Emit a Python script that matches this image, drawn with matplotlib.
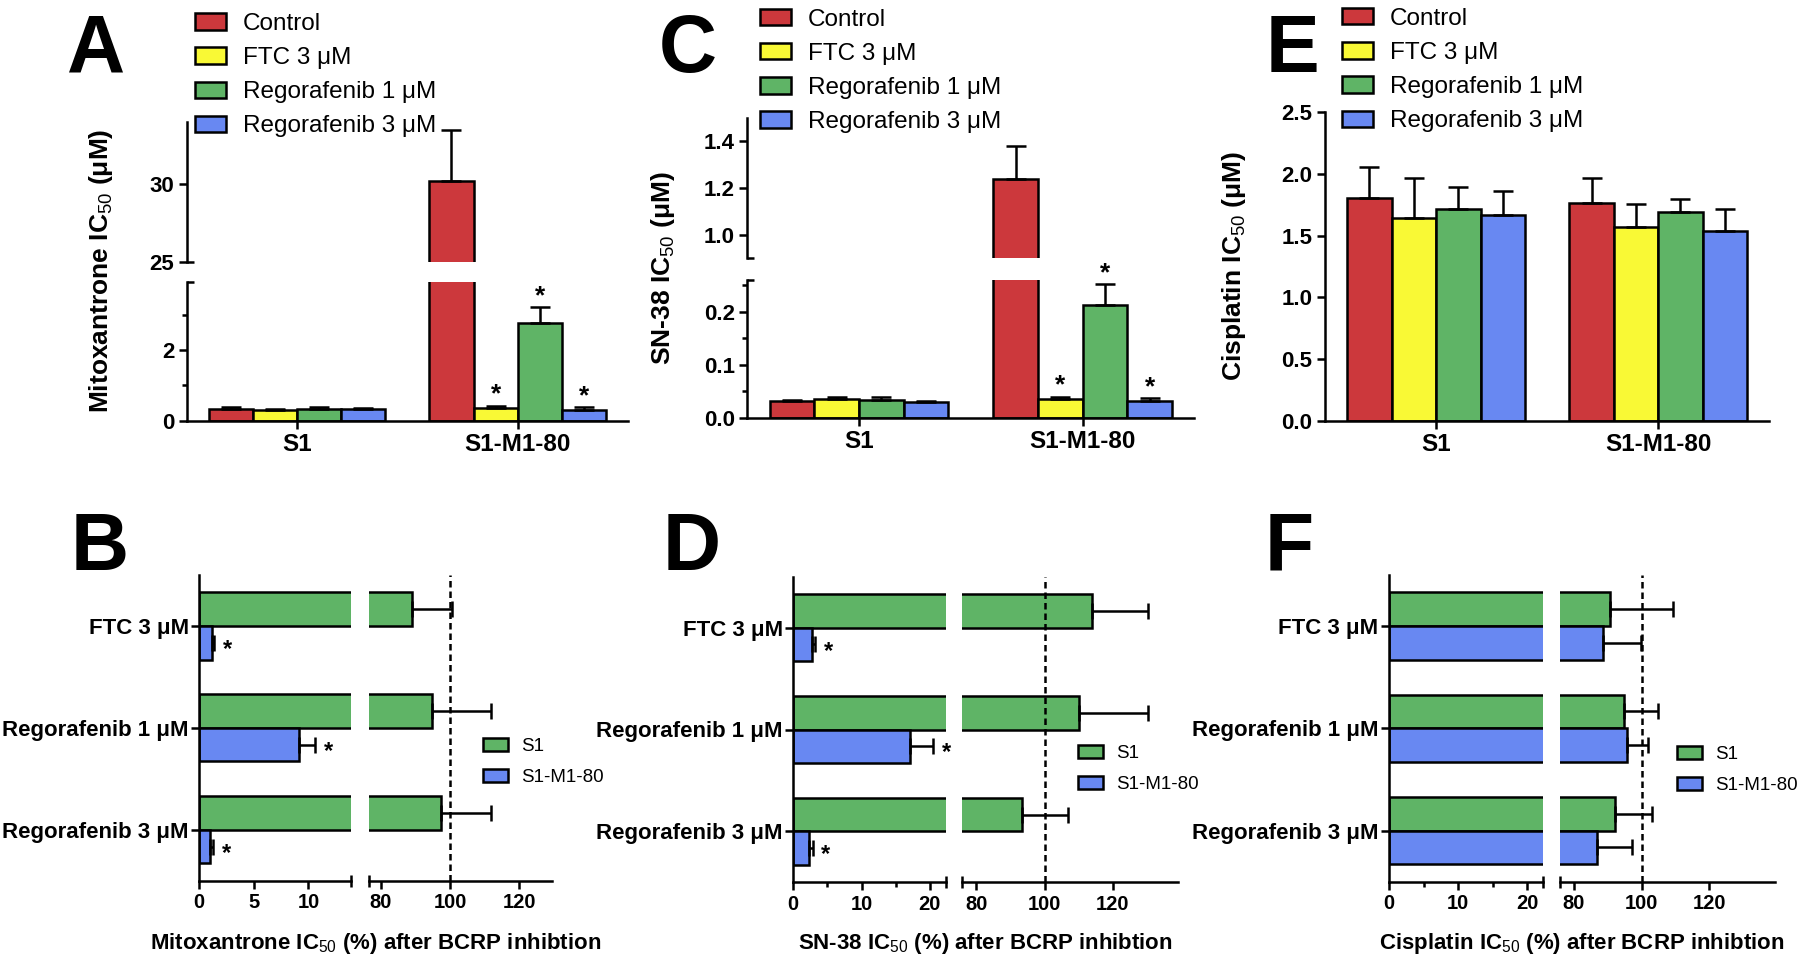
import matplotlib
matplotlib.use('Agg')
import matplotlib.pyplot as plt
from matplotlib.patches import Patch
import numpy as np

plt.rcParams['font.family'] = ['Liberation Sans', 'DejaVu Sans']
plt.rcParams['mathtext.fontset'] = 'custom'
plt.rcParams['mathtext.rm'] = 'Liberation Sans'
plt.rcParams['mathtext.default'] = 'rm'

treatments = ['Control', 'FTC 3 μM', 'Regorafenib 1 μM', 'Regorafenib 3 μM']
cells = ['S1', 'S1-M1-80']
inhibitors = ['FTC 3 μM', 'Regorafenib 1 μM', 'Regorafenib 3 μM']
bar_colors = ['#CC383C', '#F9F935', '#5FB466', '#6888F2']

# A - mitoxantrone IC50 (uM), one value per treatment
mito_s1 = [0.34, 0.30, 0.32, 0.32]
mito_s1_err = [0.06, 0.04, 0.06, 0.05]
mito_mr = [30.2, 0.35, 2.77, 0.30]
mito_mr_err = [3.25, 0.07, 0.45, 0.08]
mito_star = [False, True, True, True]

# C - SN-38 IC50 (uM)
sn38_s1 = [0.031, 0.035, 0.033, 0.029]
sn38_s1_err = [0.003, 0.005, 0.007, 0.003]
sn38_mr = [1.24, 0.036, 0.212, 0.031]
sn38_mr_err = [0.14, 0.004, 0.040, 0.006]
sn38_star = [False, True, True, True]

# E - cisplatin IC50 (uM)
cis_s1 = [1.807, 1.64, 1.72, 1.667]
cis_s1_err = [0.25, 0.33, 0.176, 0.195]
cis_mr = [1.767, 1.572, 1.689, 1.538]
cis_mr_err = [0.197, 0.184, 0.108, 0.178]
cis_star = [False, False, False, False]

# B, D, F - IC50 (%) after BCRP inhibition, one value per inhibitor
pct_mito_s1 = [88.9, 94.7, 97.5]
pct_mito_s1_err = [11.6, 17.0, 14.2]
pct_mito_mr = [1.15, 9.1, 0.98]
pct_mito_mr_err = [0.22, 1.5, 0.3]
pct_mito_star = [True, True, True]

pct_sn38_s1 = [113.8, 110.1, 93.5]
pct_sn38_s1_err = [16.5, 20.2, 13.4]
pct_sn38_mr = [2.69, 17.1, 2.35]
pct_sn38_mr_err = [0.5, 3.35, 0.5]
pct_sn38_star = [True, True, True]

pct_cis_s1 = [90.7, 94.9, 92.2]
pct_cis_s1_err = [18.5, 10.0, 11.0]
pct_cis_mr = [88.7, 95.6, 86.9]
pct_cis_mr_err = [11.0, 6.3, 10.2]
pct_cis_star = [False, False, False]

LW = 1.8
W, H = 1800, 960

fig = plt.figure(figsize=(18, 9.6), dpi=100)


def style(ax, left=True, bottom=True):
    for s in ['top', 'right']:
        ax.spines[s].set_visible(False)
    ax.spines['left'].set_visible(left)
    ax.spines['bottom'].set_visible(bottom)
    for s in ['left', 'bottom']:
        ax.spines[s].set_linewidth(LW)
    ax.tick_params(which='major', width=LW, length=5.5, labelsize=16)
    ax.tick_params(which='minor', width=LW, length=3.5)
    if not left:
        ax.tick_params(axis='y', which='both', left=False, labelleft=False)
    if not bottom:
        ax.tick_params(axis='x', which='both', bottom=False, labelbottom=False)


def ystub(ax, v):
    # short inward tick at the end of a broken y segment
    dx = 7.0 / (ax.get_position().width * W)
    ax.plot([0, dx], [v, v], transform=ax.get_yaxis_transform(), color='black',
            lw=LW, clip_on=False, solid_capstyle='butt')


def xstub(ax, v):
    dy = 6.0 / (ax.get_position().height * H)
    ax.plot([v, v], [-dy, dy], transform=ax.get_xaxis_transform(), color='black',
            lw=LW, clip_on=False, solid_capstyle='butt')


def top_bars(axes, s1, s1e, mr, mre, stars):
    xg = np.arange(len(cells))
    for ax in axes:
        for i in range(4):
            xs = xg + (i - 1.5) * 0.2
            vals = [s1[i], mr[i]]
            ax.bar(xs, vals, 0.2, color=bar_colors[i], edgecolor='black', linewidth=LW, zorder=2)
            ax.errorbar(xs, vals, yerr=[[0, 0], [s1e[i], mre[i]]], fmt='none', ecolor='black',
                        elinewidth=LW, capsize=7, capthick=LW, zorder=3)
        ax.set_xlim(-0.5, 1.5)
    for i in range(4):
        if not stars[i]:
            continue
        top = mr[i] + mre[i]
        for ax in axes:
            lo, hi = ax.get_ylim()
            if lo <= top <= hi:
                ax.annotate('*', (1 + (i - 1.5) * 0.2, top), xytext=(0, 3), textcoords='offset points',
                            ha='center', va='baseline', fontsize=19, fontweight='bold')
                break


def top_xticks(ax):
    ax.set_xticks(np.arange(len(cells)), cells, fontsize=17.5, fontweight='bold')


def top_legend(x_px, y_px):
    handles = [Patch(facecolor=c, edgecolor='black', linewidth=LW, label=t)
               for c, t in zip(bar_colors, treatments)]
    fig.legend(handles=handles, loc='center left', bbox_to_anchor=(x_px / W, 1 - y_px / H),
               frameon=False, fontsize=17.5, handlelength=1.28, handleheight=0.66,
               handletextpad=0.7, labelspacing=0.5, borderpad=0, borderaxespad=0)


def broken_top(left_px, right_px, up_px, lo_px, lo_lim, up_lim):
    l = left_px / W
    w = (right_px - left_px) / W
    ax_up = fig.add_axes([l, 1 - up_px[1] / H, w, (up_px[1] - up_px[0]) / H])
    ax_lo = fig.add_axes([l, 1 - lo_px[1] / H, w, (lo_px[1] - lo_px[0]) / H])
    ax_up.set_ylim(*up_lim)
    ax_lo.set_ylim(*lo_lim)
    style(ax_up, bottom=False)
    style(ax_lo)
    return ax_up, ax_lo


# ---------- A ----------
axA_up, axA_lo = broken_top(186.7, 628, (121.7, 261.7), (282.3, 420.7), (0, 3.92), (25, 34))
top_bars([axA_up, axA_lo], mito_s1, mito_s1_err, mito_mr, mito_mr_err, mito_star)
axA_up.set_yticks([25, 30], ['25', '30'], fontweight='bold', fontsize=16)
axA_lo.set_yticks([0, 2], ['0', '2'], fontweight='bold', fontsize=16)
axA_lo.set_yticks([1, 3], minor=True)
top_xticks(axA_lo)
ystub(axA_up, 25)
ystub(axA_lo, 3.92)
fig.text(101 / W, 1 - 271 / H, 'Mitoxantrone IC$_{50}$ (μM)', rotation=90, ha='center', va='center',
         fontsize=19, fontweight='bold')
top_legend(195, 75.2)

# ---------- C ----------
axC_up, axC_lo = broken_top(747.3, 1194.3, (118, 258), (280, 417.7), (0, 0.26), (0.9, 1.5))
top_bars([axC_up, axC_lo], sn38_s1, sn38_s1_err, sn38_mr, sn38_mr_err, sn38_star)
axC_up.set_yticks([1.0, 1.2, 1.4], ['1.0', '1.2', '1.4'], fontweight='bold', fontsize=16)
axC_lo.set_yticks([0, 0.1, 0.2], ['0.0', '0.1', '0.2'], fontweight='bold', fontsize=16)
axC_lo.set_yticks([0.05, 0.15, 0.25], minor=True)
top_xticks(axC_lo)
ystub(axC_up, 0.9)
ystub(axC_lo, 0.26)
fig.text(663 / W, 1 - 268 / H, 'SN-38 IC$_{50}$ (μM)', rotation=90, ha='center', va='center',
         fontsize=19, fontweight='bold')
top_legend(760, 70.8)

# ---------- E ----------
axE = fig.add_axes([1325 / W, 1 - 420.7 / H, 444.3 / W, 308.4 / H])
axE.set_ylim(0, 2.5)
style(axE)
top_bars([axE], cis_s1, cis_s1_err, cis_mr, cis_mr_err, cis_star)
yt = [0, 0.5, 1.0, 1.5, 2.0, 2.5]
axE.set_yticks(yt, [f'{v:.1f}' for v in yt], fontweight='bold', fontsize=16)
top_xticks(axE)
fig.text(1234 / W, 1 - 266 / H, 'Cisplatin IC$_{50}$ (μM)', rotation=90, ha='center', va='center',
         fontsize=19, fontweight='bold')
top_legend(1341.6, 70)


# ---------- bottom panels ----------
def broken_bottom(xl, xr, y_px, lim_l, lim_r, ticks_l, minor_l, s1, s1e, mr, mre, stars,
                  leg_xy, xlabel):
    b = 1 - y_px[1] / H
    h = (y_px[1] - y_px[0]) / H
    axL = fig.add_axes([xl[0] / W, b, (xl[1] - xl[0]) / W, h])
    axR = fig.add_axes([xr[0] / W, b, (xr[1] - xr[0]) / W, h])
    yc = np.arange(len(inhibitors))
    for ax in (axL, axR):
        ax.barh(yc - 0.165, s1, 0.33, color=bar_colors[2], edgecolor='black', linewidth=LW, zorder=2)
        ax.barh(yc + 0.165, mr, 0.33, color=bar_colors[3], edgecolor='black', linewidth=LW, zorder=2)
        ax.errorbar(s1, yc - 0.165, xerr=[[0] * 3, s1e], fmt='none', ecolor='black',
                    elinewidth=LW, capsize=5.5, capthick=LW, zorder=3)
        ax.errorbar(mr, yc + 0.165, xerr=[[0] * 3, mre], fmt='none', ecolor='black',
                    elinewidth=LW, capsize=5.5, capthick=LW, zorder=3)
        ax.set_ylim(2.5, -0.5)
    axL.set_xlim(*lim_l)
    axR.set_xlim(*lim_r)
    style(axL)
    style(axR, left=False)
    axL.tick_params(axis='y', pad=2)
    axL.set_yticks(yc, inhibitors, fontsize=16, fontweight='bold')
    axL.set_xticks(ticks_l, [str(t) for t in ticks_l], fontsize=14.5, fontweight='bold')
    if minor_l:
        axL.set_xticks(minor_l, minor=True)
    axR.set_xticks([80, 100, 120], ['80', '100', '120'], fontsize=14.5, fontweight='bold')
    axR.axvline(100, color='black', lw=LW, ls=(0, (2.6, 1.6)), zorder=4)
    xstub(axL, lim_l[1])
    xstub(axR, lim_r[0])
    for i in range(3):
        if stars[i]:
            axL.annotate('*', (mr[i] + mre[i], yc[i] + 0.165), xytext=(9.5, -9.5),
                         textcoords='offset points', ha='center', va='baseline',
                         fontsize=17, fontweight='bold')
    handles = [Patch(facecolor=bar_colors[2], edgecolor='black', linewidth=LW, label=cells[0]),
               Patch(facecolor=bar_colors[3], edgecolor='black', linewidth=LW, label=cells[1])]
    fig.legend(handles=handles, loc='center left', bbox_to_anchor=(leg_xy[0] / W, 1 - leg_xy[1] / H),
               frameon=False, fontsize=13.5, handlelength=1.33, handleheight=0.68,
               handletextpad=0.71, labelspacing=0.75, borderpad=0, borderaxespad=0)
    fig.text((xl[0] + xr[1]) / 2 / W, 1 - 944 / H, xlabel, ha='center', va='center',
             fontsize=16, fontweight='bold')


broken_bottom((199.3, 351), (368.7, 552.3), (575, 880.7), (0, 13.9), (76.5, 129.5), [0, 5, 10], None,
              pct_mito_s1, pct_mito_s1_err, pct_mito_mr, pct_mito_mr_err, pct_mito_star,
              (483.3, 761.7), 'Mitoxantrone IC$_{50}$ (%) after BCRP inhibtion')
broken_bottom((793.3, 945.6), (962, 1177.9), (576.7, 882.3), (0, 22.3), (75.8, 139), [0, 10, 20], [5, 15],
              pct_sn38_s1, pct_sn38_s1_err, pct_sn38_mr, pct_sn38_mr_err, pct_sn38_star,
              (1078, 769.2), 'SN-38 IC$_{50}$ (%) after BCRP inhibtion')
broken_bottom((1389, 1542.7), (1560, 1775), (575, 881.7), (0, 22.2), (75.9, 139.4), [0, 10, 20], [5, 15],
              pct_cis_s1, pct_cis_s1_err, pct_cis_mr, pct_cis_mr_err, pct_cis_star,
              (1676.7, 770), 'Cisplatin IC$_{50}$ (%) after BCRP inhibtion')

# panel letters
for letter, x, y in [('A', 67, 72), ('C', 659, 72), ('E', 1266, 72),
                     ('B', 71, 570), ('D', 663, 570), ('F', 1265, 570)]:
    fig.text(x / W, 1 - y / H, letter, fontsize=58, fontweight='bold', ha='left', va='baseline')

fig.savefig('out.png', dpi=100)
